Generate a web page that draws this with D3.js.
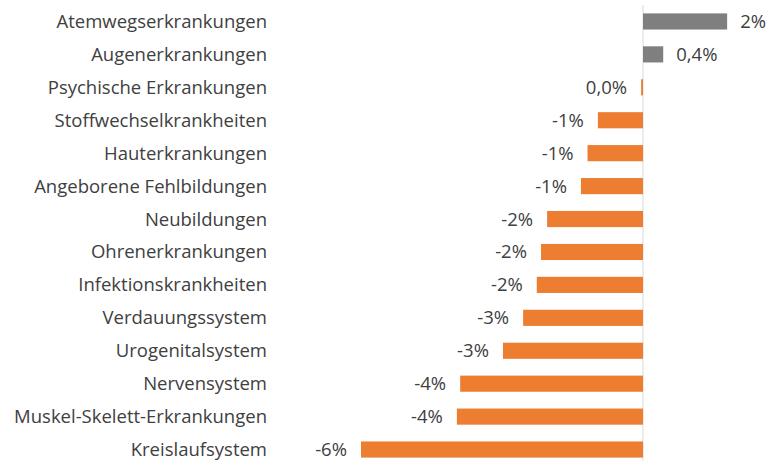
<!DOCTYPE html>
<html>
<head>
<meta charset="utf-8">
<script src="https://cdn.jsdelivr.net/npm/d3@7"></script>
<style>
  body { margin: 0; background: #fff; }
  svg { display: block; }
  .cat-label { font-family: 'Open Sans', sans-serif; font-size: 18.5px; fill: #404040; }
  .val-label { font-family: 'Open Sans', sans-serif; font-size: 18.5px; fill: #404040; }
</style>
</head>
<body>
<svg id="chart"></svg>
<script>
'use strict'

// Kategorien (von oben nach unten)
const categories = [
  'Atemwegserkrankungen',
  'Augenerkrankungen',
  'Psychische Erkrankungen',
  'Stoffwechselkrankheiten',
  'Hauterkrankungen',
  'Angeborene Fehlbildungen',
  'Neubildungen',
  'Ohrenerkrankungen',
  'Infektionskrankheiten',
  'Verdauungssystem',
  'Urogenitalsystem',
  'Nervensystem',
  'Muskel-Skelett-Erkrankungen',
  'Kreislaufsystem'
]

// Veränderung in Prozent (aus dem Bild geschätzt)
const values = [1.79, 0.43, -0.04, -0.96, -1.18, -1.32, -2.04, -2.17, -2.26, -2.55, -2.98, -3.89, -3.96, -6.0]

// Beschriftungen wie im Original
const valueLabels = ['2%', '0,4%', '0,0%', '-1%', '-1%', '-1%', '-2%', '-2%', '-2%', '-3%', '-3%', '-4%', '-4%', '-6%']

const width = 770
const height = 461

const svg = d3.select('#chart')
  .attr('width', width)
  .attr('height', height)

const x = d3.scaleLinear()
  .domain([-6, 2])
  .range([361, 737])

const y = d3.scaleBand()
  .domain(categories)
  .range([5, 466])
  .paddingInner(0.51)
  .paddingOuter(0.255)

const data = categories.map((c, i) => ({ cat: c, val: values[i], label: valueLabels[i] }))

// Nulllinie
svg.append('line')
  .attr('x1', x(0))
  .attr('x2', x(0))
  .attr('y1', 5)
  .attr('y2', height)
  .attr('stroke', '#d9d9d9')
  .attr('stroke-width', 1)

// Balken
svg.selectAll('.bar')
  .data(data)
  .enter()
  .append('rect')
  .attr('class', 'bar')
  .attr('x', d => Math.min(x(0), x(d.val)))
  .attr('y', d => y(d.cat))
  .attr('width', d => Math.abs(x(d.val) - x(0)))
  .attr('height', y.bandwidth())
  .attr('fill', d => d.val > 0 ? '#7f7f7f' : '#ed7d31')

// Kategorienbeschriftung
svg.selectAll('.cat-label')
  .data(data)
  .enter()
  .append('text')
  .attr('class', 'cat-label')
  .attr('x', 267)
  .attr('y', d => y(d.cat) + y.bandwidth() / 2 - 1)
  .attr('text-anchor', 'end')
  .attr('dominant-baseline', 'central')
  .text(d => d.cat)

// Wertbeschriftung
svg.selectAll('.val-label')
  .data(data)
  .enter()
  .append('text')
  .attr('class', 'val-label')
  .attr('x', d => d.val > 0 ? x(d.val) + 13 : x(d.val) - 14)
  .attr('y', d => y(d.cat) + y.bandwidth() / 2 - 1)
  .attr('text-anchor', d => d.val > 0 ? 'start' : 'end')
  .attr('dominant-baseline', 'central')
  .text(d => d.label)
</script>
</body>
</html>
